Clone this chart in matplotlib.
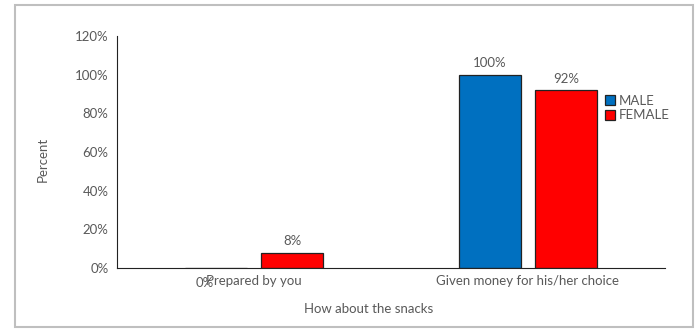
"""
Snack choice by gender, grouped bar chart.
"""

import matplotlib.pyplot as plt
from matplotlib.patches import Rectangle
import numpy as np

categories = ["Prepared by you", "Given money for his/her choice"]
male = [0, 100]
female = [8, 92]
yticks = [0, 20, 40, 60, 80, 100, 120]

BLUE = "#0070C0"
RED = "#FF0000"
GREY = "#595959"
FS = 9.5

plt.rcParams["font.family"] = ["Lato", "DejaVu Sans"]

fig = plt.figure(figsize=(6.98, 3.29), dpi=100)
# outer chart border
fig.patches.append(Rectangle((15 / 698, 2 / 329), 678 / 698, 322 / 329,
                             transform=fig.transFigure, fill=False,
                             edgecolor="#BFBFBF", linewidth=1.5))

ax = fig.add_axes([117 / 698, 1 - 268 / 329, 548 / 698, 232 / 329])

x = np.arange(len(categories))
w = 0.226
off = 0.139
b1 = ax.bar(x - off, male, w, color=BLUE, edgecolor="#222222", linewidth=0.9, label="MALE")
b2 = ax.bar(x + off, female, w, color=RED, edgecolor="#222222", linewidth=0.9, label="FEMALE")

for bars, vals in ((b1, male), (b2, female)):
    for rect, v in zip(bars, vals):
        dy = 4 if v > 0 else -15
        ax.annotate(f"{v}%", xy=(rect.get_x() + rect.get_width() / 2, v),
                    xytext=(-8 if v == 0 else 0, dy), textcoords="offset points",
                    ha="center", va="bottom", fontsize=FS, color=GREY)

ax.set_xlim(-0.5, 1.5)
ax.set_ylim(0, 120)
ax.set_yticks(yticks)
ax.set_yticklabels([f"{t}%" for t in yticks])
ax.set_xticks(x)
ax.set_xticklabels(categories)
ax.tick_params(length=0, labelsize=FS, labelcolor=GREY, pad=5)
ax.tick_params(axis="y", pad=6)

for s in ("top", "right"):
    ax.spines[s].set_visible(False)
ax.spines["left"].set_color("#222222")
ax.spines["bottom"].set_color("#222222")

ax.set_ylabel("Percent", fontsize=FS, color=GREY)
ax.yaxis.set_label_coords(-0.125, 0.47)
ax.set_xlabel("How about the snacks", fontsize=FS, color=GREY)
ax.xaxis.set_label_coords(0.46, -0.15)

ax.legend(loc="center left", bbox_to_anchor=(0.88, 0.69), frameon=False,
          fontsize=FS, handlelength=0.8, handleheight=0.8, handletextpad=0.3,
          labelspacing=0.2, borderaxespad=0, labelcolor=GREY)

plt.savefig("out.png", dpi=100)
plt.close()
